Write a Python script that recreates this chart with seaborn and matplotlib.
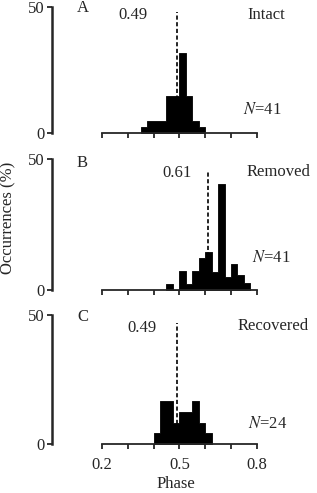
import numpy as np
import pandas as pd
import matplotlib
matplotlib.use("Agg")
import matplotlib.pyplot as plt
import seaborn as sns

sns.set_style("ticks")
plt.rcParams['font.family'] = ['Liberation Serif', 'DejaVu Serif']
plt.rcParams['mathtext.fontset'] = 'stix'

# phase histograms, bin width 0.025, heights in % of occurrences
bin_width = 0.025
start_a = 0.35
pct_a = [2.4, 4.9, 4.9, 4.9, 14.6, 14.6, 31.7, 14.6, 4.9, 2.4]
start_b = 0.45
pct_b = [2.4, 0.0, 7.3, 2.4, 7.3, 12.2, 14.6, 6.8, 40.5, 5.0, 9.8, 5.5, 2.8]
start_c = 0.40
pct_c = [4.2, 16.7, 16.7, 8.3, 12.5, 12.5, 16.7, 8.3, 4.2]

letters = ['A', 'B', 'C']
conditions = ['Intact', 'Removed', 'Recovered']
mean_phase = [0.49, 0.61, 0.49]
n_cells = [41, 41, 24]

# text placement per panel (data coords)
mean_lbl_x = [0.378, 0.549, 0.413]
mean_lbl_y = [47.0, 44.7, 45.0]
cond_x = [0.762, 0.762, 0.727]
cond_y = [47.0, 45.0, 46.0]
n_x = [0.747, 0.781, 0.766]
n_y = [9.0, 12.0, 7.8]
line_top = [48, 45, 47]
letter_y = [49.6, 48.5, 49.5]

fig = plt.figure(figsize=(3.17, 4.93), dpi=100)
positions = [(0.164, 0.730, 0.782, 0.266),
             (0.164, 0.412, 0.782, 0.276),
             (0.164, 0.099, 0.782, 0.272)]

fs = 12
for i, (start, pct) in enumerate(zip([start_a, start_b, start_c],
                                      [pct_a, pct_b, pct_c])):
    ax = fig.add_axes(positions[i])
    n_bins = len(pct)
    df = pd.DataFrame({'phase': start + bin_width * (np.arange(n_bins) + 0.5),
                       'pct': pct})
    sns.histplot(data=df, x='phase', weights='pct', binwidth=bin_width,
                 binrange=(start, start + bin_width * n_bins), ax=ax,
                 element='step', fill=True, color='black',
                 edgecolor='black', linewidth=0.6, alpha=1)
    ax.vlines(mean_phase[i], 0, line_top[i], colors='black', linewidth=1.2,
              linestyles=(0, (2.5, 1.5)))
    ax.set_xlim(0.0062, 0.967)
    ax.set_ylim(0, 52)
    sns.despine(ax=ax)
    ax.spines['bottom'].set_bounds(0.2, 0.8)
    ax.spines['left'].set_bounds(0, 50)
    ax.spines['left'].set_linewidth(1.8)
    ax.spines['bottom'].set_linewidth(1.3)
    ax.set_yticks([0, 50])
    ax.set_xticks([0.2, 0.5, 0.8])
    ax.set_xticks([0.3, 0.4, 0.6, 0.7], minor=True)
    ax.tick_params(axis='both', which='both', length=3.5, width=1.3,
                   labelsize=fs, direction='out', pad=2)
    ax.tick_params(axis='x', pad=6)
    if i < 2:
        ax.set_xticklabels([])
        ax.set_xlabel('')
    else:
        ax.set_xticklabels(['0.2', '0.5', '0.8'])
        ax.set_xlabel('Phase', fontsize=fs, labelpad=2)
    ax.set_ylabel('')
    ax.patch.set_alpha(0)

    ax.text(0.103, letter_y[i], letters[i], fontsize=fs, va='center')
    ax.text(mean_lbl_x[i], mean_lbl_y[i], f'{mean_phase[i]:.2f}',
            fontsize=fs, ha='right', va='center')
    ax.text(cond_x[i], cond_y[i], conditions[i], fontsize=fs, va='center')
    ax.text(n_x[i], n_y[i], f'$N$={n_cells[i]}', fontsize=fs, va='center')

fig.text(0.028, 0.558, 'Occurrences (%)', rotation=90, fontsize=fs,
         ha='center', va='center')

fig.savefig('out.png', dpi=100)
